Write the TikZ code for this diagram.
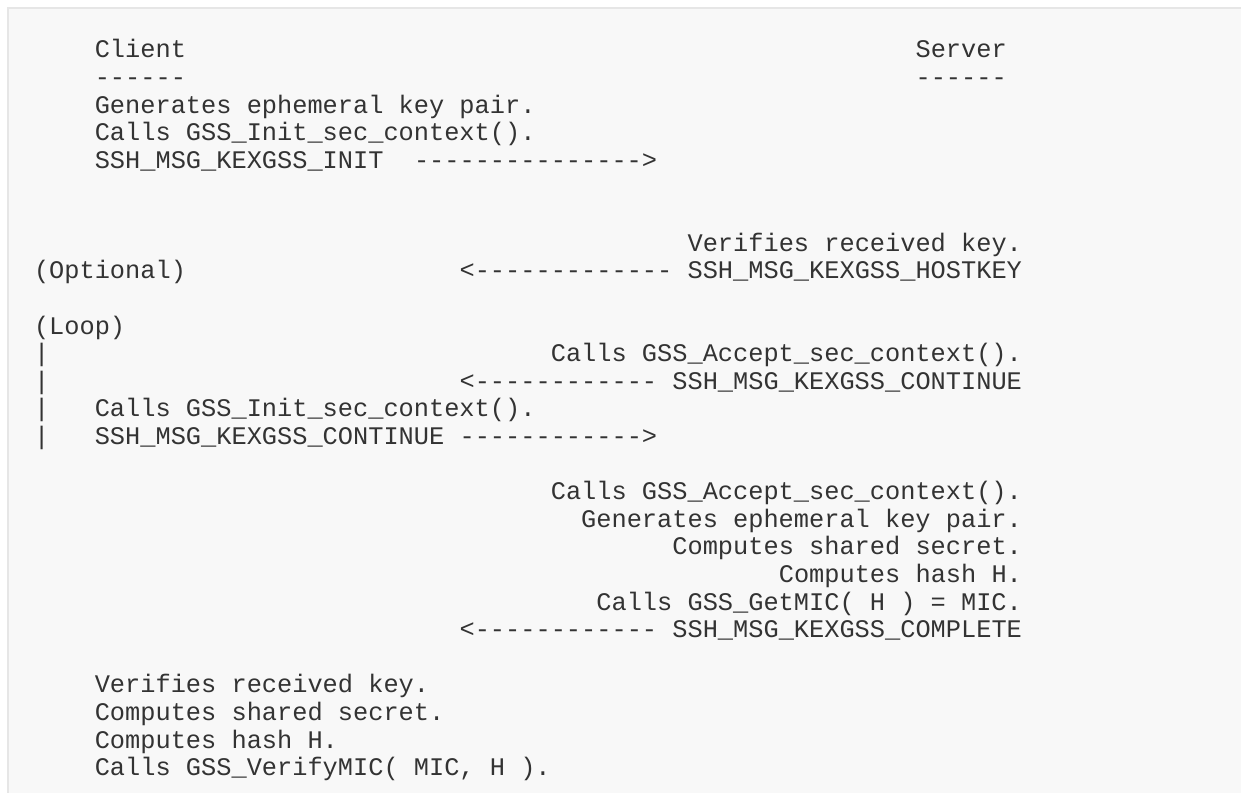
\documentclass[tikz,border=0pt]{standalone}
\usepackage{fontspec}
\setmonofont{Liberation Mono}
\definecolor{panelbg}{HTML}{F8F8F8}
\definecolor{panelborder}{HTML}{E6E6E6}
\definecolor{textgray}{HTML}{333333}
\newcommand{\cl}[1]{34+15.2*#1}
\newcommand{\rw}[1]{58+27.6*#1}
\tikzset{
  txt/.style={anchor=base west, inner sep=0pt, outer sep=0pt, text=textgray,
    font=\ttfamily\fontsize{25.42pt}{28pt}\selectfont\frenchspacing},
}
\begin{document}
\begin{tikzpicture}[x=1bp, y=-1bp]
\useasboundingbox (0,0) rectangle (1241,793);
\fill[white] (0,0) rectangle (1241,793);
\fill[panelbg] (7,7) rectangle (1241,793);
\draw[panelborder, line width=2bp] (8,793) -- (8,8) -- (1241,8);
% header
\node[txt] (client) at ({\cl{4}},{\rw{0}}) {Client};
\node[txt] (server) at ({\cl{58}},{\rw{0}}) {Server};
\node[txt] (clientrule) at ({\cl{4}},{\rw{1}}) {------};
\node[txt] (serverrule) at ({\cl{58}},{\rw{1}}) {------};
% client init
\node[txt] (c1) at ({\cl{4}},{\rw{2}}) {Generates ephemeral key pair.};
\node[txt] (c2) at ({\cl{4}},{\rw{3}}) {Calls GSS\_Init\_sec\_context().};
\node[txt] (m1) at ({\cl{4}},{\rw{4}}) {SSH\_MSG\_KEXGSS\_INIT};
\node[txt] (a1) at ({\cl{25}},{\rw{4}}) {--------------->};
% hostkey
\node[txt] (s1) at ({\cl{43}},{\rw{7}}) {Verifies received key.};
\node[txt] (opt) at ({\cl{0}},{\rw{8}}) {(Optional)};
\node[txt] (a2) at ({\cl{28}},{\rw{8}}) {<-------------};
\node[txt] (m2) at ({\cl{43}},{\rw{8}}) {SSH\_MSG\_KEXGSS\_HOSTKEY};
% loop
\node[txt] (loop) at ({\cl{0}},{\rw{10}}) {(Loop)};
\node[txt] (bar1) at ({\cl{0}},{\rw{11}}) {|};
\node[txt] (s2) at ({\cl{34}},{\rw{11}}) {Calls GSS\_Accept\_sec\_context().};
\node[txt] (bar2) at ({\cl{0}},{\rw{12}}) {|};
\node[txt] (a3) at ({\cl{28}},{\rw{12}}) {<------------};
\node[txt] (m3) at ({\cl{42}},{\rw{12}}) {SSH\_MSG\_KEXGSS\_CONTINUE};
\node[txt] (bar3) at ({\cl{0}},{\rw{13}}) {|};
\node[txt] (c3) at ({\cl{4}},{\rw{13}}) {Calls GSS\_Init\_sec\_context().};
\node[txt] (bar4) at ({\cl{0}},{\rw{14}}) {|};
\node[txt] (m4) at ({\cl{4}},{\rw{14}}) {SSH\_MSG\_KEXGSS\_CONTINUE};
\node[txt] (a4) at ({\cl{28}},{\rw{14}}) {------------>};
% server completes
\node[txt] (s3) at ({\cl{34}},{\rw{16}}) {Calls GSS\_Accept\_sec\_context().};
\node[txt] (s4) at ({\cl{36}},{\rw{17}}) {Generates ephemeral key pair.};
\node[txt] (s5) at ({\cl{42}},{\rw{18}}) {Computes shared secret.};
\node[txt] (s6) at ({\cl{49}},{\rw{19}}) {Computes hash H.};
\node[txt] (s7) at ({\cl{37}},{\rw{20}}) {Calls GSS\_GetMIC( H ) = MIC.};
\node[txt] (a5) at ({\cl{28}},{\rw{21}}) {<------------};
\node[txt] (m5) at ({\cl{42}},{\rw{21}}) {SSH\_MSG\_KEXGSS\_COMPLETE};
% client finishes
\node[txt] (c4) at ({\cl{4}},{\rw{23}}) {Verifies received key.};
\node[txt] (c5) at ({\cl{4}},{\rw{24}}) {Computes shared secret.};
\node[txt] (c6) at ({\cl{4}},{\rw{25}}) {Computes hash H.};
\node[txt] (c7) at ({\cl{4}},{\rw{26}}) {Calls GSS\_VerifyMIC( MIC, H ).};
\end{tikzpicture}
\end{document}
